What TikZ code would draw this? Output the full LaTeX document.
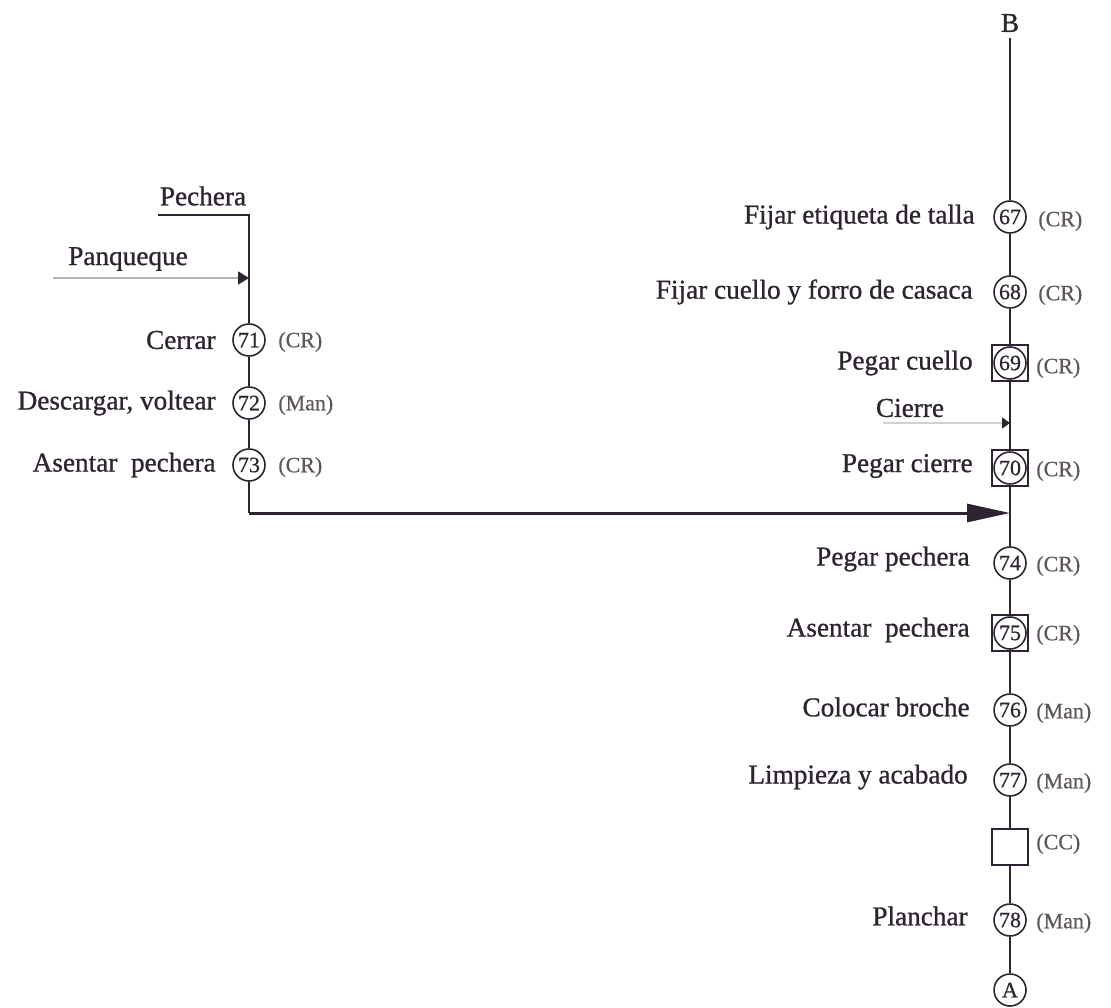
\documentclass[tikz,border=0pt]{standalone}
\usepackage{fontspec}
\setmainfont{Liberation Serif}
\newfontfamily\lblfont{Liberation Serif}[FakeBold=0.9]
\newfontfamily\tagfont{Liberation Serif}[FakeBold=0.6]
\usetikzlibrary{arrows.meta}
\definecolor{ink}{HTML}{2E2330}
\definecolor{tagc}{HTML}{5E565C}
\definecolor{feedc}{HTML}{B4B2B3}
\tikzset{
  op/.style={circle, draw=ink, line width=0.9pt, minimum size=0.64cm, inner sep=0pt, text=ink, font=\tagfont\fontsize{12.5}{14}\selectfont},
  insp/.style={rectangle, draw=ink, line width=1.6pt, minimum size=0.72cm, inner sep=0pt},
  lbl/.style={left, inner sep=0pt, text=ink, font=\lblfont\fontsize{15.5}{18}\selectfont},
  tag/.style={right, inner sep=0pt, text=tagc, font=\tagfont\fontsize{12.5}{14}\selectfont},
  flow/.style={draw=ink, line width=1.1pt},
  feed/.style={draw=feedc, line width=1pt, -{Triangle[length=0.22cm, width=0.26cm, color=ink]}}
}
\begin{document}
\begin{tikzpicture}[x=0.02cm, y=-0.02cm]
\useasboundingbox (0,0) rectangle (1111,1007);
\node[text=ink, font=\lblfont\fontsize{15.5}{18}\selectfont] (pech) at (203,196) {Pechera};
\node[text=ink, font=\lblfont\fontsize{15.5}{18}\selectfont] (panq) at (128,259) {Panqueque};
\node[op] (o71) at (249,340) {71};
\node[op] (o72) at (249,403) {72};
\node[op] (o73) at (249,465) {73};
\node[lbl] (t71) at (216,340) {Cerrar};
\node[lbl] (t72) at (216,403) {Descargar, voltear};
\node[lbl] (t73) at (216,465) {Asentar\ \ pechera};
\node[tag] (m71) at (278,342) {(CR)};
\node[tag] (m72) at (278,405) {(Man)};
\node[tag] (m73) at (278,467) {(CR)};
\coordinate (pe) at (158,215);
\coordinate (pq) at (53,278);
\coordinate (pqend) at (249,278);
\coordinate (k73) at (249,513);
\node[text=ink, font=\lblfont\fontsize{15.5}{18}\selectfont] (B) at (1010,23) {B};
\node[op] (o67) at (1010,217) {67};
\node[op] (o68) at (1010,292) {68};
\node[insp] (s69) at (1010,363) {};
\node[op] (o69) at (s69) {69};
\node[text=ink, font=\lblfont\fontsize{15.5}{18}\selectfont] (cier) at (910,408) {Cierre};
\coordinate (ci) at (883,423);
\coordinate (ciend) at (1010,423);
\node[insp] (s70) at (1010,468) {};
\node[op] (o70) at (s70) {70};
\coordinate (j74) at (1010,513);
\node[op] (o74) at (1010,563) {74};
\node[insp] (s75) at (1010,633) {};
\node[op] (o75) at (s75) {75};
\node[op] (o76) at (1010,710) {76};
\node[op] (o77) at (1010,780) {77};
\node[insp, line width=1pt] (cc) at (1010,847) {};
\node[op] (o78) at (1010,920) {78};
\node[op] (A) at (1010,990) {A};
\node[lbl] (t67) at (975,217) {Fijar etiqueta de talla};
\node[lbl] (t68) at (973,292) {Fijar cuello y forro de casaca};
\node[lbl] (t69) at (973,363) {Pegar cuello};
\node[lbl] (t70) at (973,466) {Pegar cierre};
\node[lbl] (t74) at (970,559) {Pegar pechera};
\node[lbl] (t75) at (970,630) {Asentar\ \ pechera};
\node[lbl] (t76) at (970,707) {Colocar broche};
\node[lbl] (t77) at (968,777) {Limpieza y acabado};
\node[lbl] (t78) at (968,916) {Planchar};
\node[tag] (m67) at (1038,221) {(CR)};
\node[tag] (m68) at (1038,295) {(CR)};
\node[tag] (m69) at (1036,368) {(CR)};
\node[tag] (m70) at (1036,471) {(CR)};
\node[tag] (m74) at (1036,566) {(CR)};
\node[tag] (m75) at (1036,635) {(CR)};
\node[tag] (m76) at (1036,713) {(Man)};
\node[tag] (m77) at (1036,783) {(Man)};
\node[tag] (mcc) at (1036,844) {(CC)};
\node[tag] (m78) at (1036,923) {(Man)};
\draw[flow] (pe) -| (o71);
\draw[flow] (o71) -- (o72) -- (o73) -- (k73);
\draw[feed] (pq) -- (pqend);
\draw[draw=ink, line width=1.7pt, -{Triangle[length=0.86cm, width=0.36cm]}] (k73) -- (j74);
\draw[flow] (B) -- (o67) -- (o68) -- (s69) -- (s70) -- (o74) -- (s75) -- (o76) -- (o77) -- (cc) -- (o78) -- (A);
\draw[feed, draw=feedc!60, -{Triangle[length=0.16cm, width=0.22cm, color=ink]}] (ci) -- (ciend);
\end{tikzpicture}
\end{document}
